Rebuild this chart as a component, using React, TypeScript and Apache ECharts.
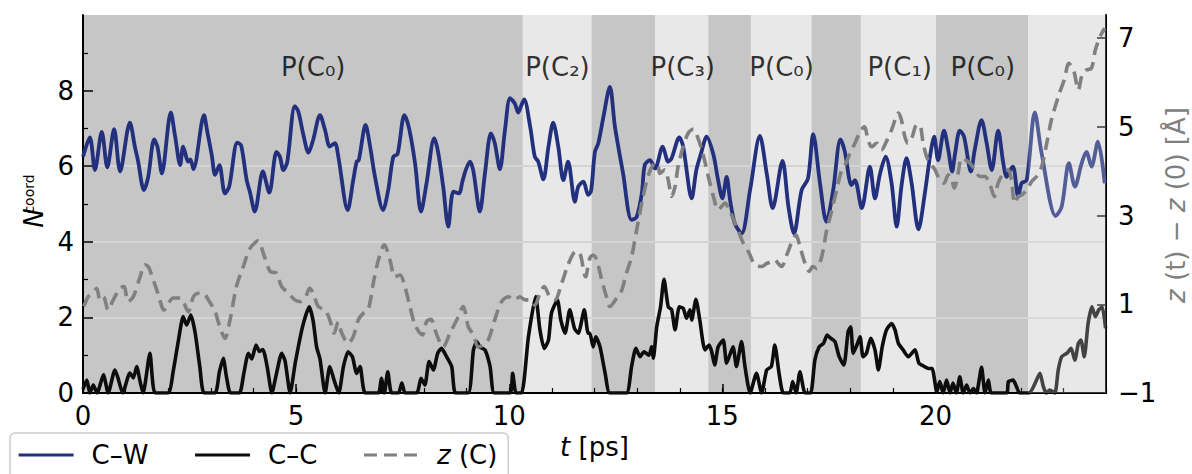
import React, { useEffect, useRef } from 'react';
import * as echarts from 'echarts';

const FONT = "'DejaVu Sans', sans-serif";

// C–W coordination number (left axis) [t (ps), N]
const cwValues: [number, number][] = [
  [0.00,6.25],[0.16,6.76],[0.28,5.90],[0.44,6.91],[0.57,5.97],[0.73,6.98],[0.87,5.86],[1.10,7.15],[1.22,6.5],[1.29,6.15],[1.43,5.37],[1.53,5.72],[1.67,6.71],[1.75,6.50],[1.85,5.81],[2.06,7.42],[2.16,6.80],[2.28,6.03],[2.35,6.52],[2.47,6.12],[2.52,6.18],[2.59,5.92],[2.84,7.35],[2.91,6.95],[3.02,6.30],[3.10,5.77],[3.20,6.03],[3.33,5.28],[3.43,5.46],[3.62,6.62],[3.71,6.55],[3.84,5.63],[3.92,5.30],[4.03,4.80],[4.22,5.86],[4.37,5.30],[4.54,6.38],[4.62,6.25],[4.70,5.90],[4.79,6.10],[4.97,7.59],[5.05,7.45],[5.17,6.83],[5.29,6.36],[5.40,6.70],[5.56,7.35],[5.68,6.95],[5.79,6.52],[5.91,6.61],[5.99,6.25],[6.21,4.84],[6.34,5.63],[6.42,6.12],[6.47,6.16],[6.63,7.09],[6.73,6.56],[6.85,5.72],[7.04,4.84],[7.16,5.37],[7.28,6.25],[7.38,6.32],[7.54,7.35],[7.65,7.00],[7.79,6.08],[7.93,4.80],[8.06,5.55],[8.24,6.74],[8.33,6.38],[8.45,5.46],[8.57,4.40],[8.69,5.33],[8.82,5.28],[8.90,5.59],[8.98,5.90],[9.08,6.12],[9.16,5.86],[9.31,4.80],[9.43,5.81],[9.57,6.87],[9.66,6.61],[9.78,5.92],[9.90,6.96],[10.02,7.80],[10.13,7.66],[10.21,7.42],[10.27,7.57],[10.35,7.77],[10.49,7.05],[10.60,6.25],[10.68,6.12],[10.80,5.65],[10.92,6.52],[11.03,7.15],[11.15,6.52],[11.27,5.63],[11.38,6.12],[11.54,5.06],[11.62,5.46],[11.74,5.59],[11.85,5.24],[11.92,5.35],[12.01,6.38],[12.09,6.61],[12.21,7.31],[12.36,8.10],[12.48,7.04],[12.67,5.81],[12.87,4.58],[12.99,4.66],[13.11,5.28],[13.18,6.03],[13.30,6.16],[13.42,5.94],[13.60,6.52],[13.73,6.12],[13.81,6.21],[13.99,6.76],[14.08,6.52],[14.28,5.15],[14.39,5.90],[14.51,6.38],[14.63,6.78],[14.79,6.30],[14.90,5.63],[15.00,5.15],[15.10,5.72],[15.18,5.11],[15.29,4.49],[15.45,4.22],[15.65,5.37],[15.88,6.80],[16.04,5.81],[16.18,4.89],[16.41,6.14],[16.55,4.93],[16.68,4.22],[16.86,5.37],[17.01,5.68],[17.13,6.85],[17.29,5.55],[17.44,4.53],[17.60,5.37],[17.77,6.71],[17.87,6.40],[18.03,5.50],[18.11,5.63],[18.27,4.89],[18.46,5.99],[18.58,5.15],[18.70,5.81],[18.83,6.25],[18.97,5.55],[19.09,4.40],[19.20,5.46],[19.32,6.21],[19.44,5.55],[19.60,4.33],[19.75,5.28],[19.87,6.25],[19.97,6.78],[20.06,6.16],[20.20,6.94],[20.30,6.43],[20.39,5.86],[20.46,6.34],[20.57,6.94],[20.67,6.78],[20.83,5.86],[20.92,6.43],[21.08,7.22],[21.20,6.61],[21.32,5.90],[21.47,6.94],[21.59,6.08],[21.67,5.72],[21.75,5.90],[21.82,5.99],[21.94,5.19],[22.02,5.55],[22.14,5.63],[22.33,7.42],[22.49,6.34],[22.82,4.68],[22.96,4.93],[23.13,6.08],[23.27,5.46],[23.43,6.08],[23.54,6.38],[23.66,5.99],[23.81,6.65],[23.97,5.55]
];

// C–C coordination number (left axis) [t (ps), N]
const ccValues: [number, number][] = [
  [0.00,0.10],[0.09,0.34],[0.16,0],[0.24,0.21],[0.33,0],[0.48,0.48],[0.59,0],[0.75,0.61],[0.82,0.40],[0.93,0],[1.10,0.53],[1.18,0.40],[1.26,0.70],[1.34,0.30],[1.41,0],[1.57,1.05],[1.69,0],[2.00,0],[2.12,0.60],[2.24,1.40],[2.35,2.02],[2.43,1.80],[2.53,2.06],[2.63,1.60],[2.74,0.70],[2.84,0],[3.10,0],[3.20,0.56],[3.29,0.92],[3.37,0.40],[3.46,0],[3.67,0],[3.77,0.50],[3.88,1.05],[3.96,0.90],[4.06,1.27],[4.14,1.10],[4.22,1.15],[4.32,0.70],[4.43,0],[4.55,0.57],[4.66,1.05],[4.74,0.85],[4.86,0],[4.98,0.80],[5.15,1.75],[5.31,2.28],[5.40,1.90],[5.48,1.22],[5.56,0.90],[5.68,0],[5.79,0.70],[5.89,0.34],[6.00,0],[6.11,0.70],[6.22,1.09],[6.32,0.96],[6.42,0.52],[6.50,0.70],[6.62,0],[6.93,0],[7.00,0.39],[7.07,0],[7.15,0.56],[7.24,0],[7.40,0],[7.48,0.26],[7.56,0],[7.83,0],[7.93,0.39],[8.02,0.21],[8.12,0.83],[8.22,0.61],[8.32,1.05],[8.41,1.18],[8.53,0.96],[8.65,0.70],[8.74,0],[9.04,0],[9.16,1.14],[9.24,1.36],[9.31,1.22],[9.43,1.14],[9.55,0.70],[9.65,0],[10.02,0],[10.08,0.52],[10.16,0],[10.29,0],[10.45,1.49],[10.62,2.55],[10.72,1.67],[10.82,1.18],[10.92,1.40],[10.99,2.11],[11.13,2.46],[11.21,1.93],[11.31,1.58],[11.42,2.20],[11.53,1.71],[11.62,1.58],[11.76,2.20],[11.85,1.58],[11.89,1.58],[11.97,1.22],[12.03,1.49],[12.13,1.22],[12.25,0.52],[12.36,0],[12.75,0],[12.87,0.70],[12.97,1.18],[13.07,0.96],[13.16,1.09],[13.28,1.00],[13.34,1.22],[13.38,0.92],[13.46,1.75],[13.55,2.28],[13.63,3.01],[13.73,2.28],[13.81,2.20],[13.89,1.67],[13.99,2.28],[14.08,2.24],[14.16,1.98],[14.24,2.20],[14.28,1.93],[14.38,2.48],[14.47,1.93],[14.59,1.14],[14.69,1.27],[14.75,1.09],[14.82,0.74],[14.90,1.22],[15.02,1.40],[15.10,0.79],[15.25,1.22],[15.33,0.70],[15.45,1.36],[15.53,0.70],[15.65,0],[15.80,0.52],[15.92,0],[16.04,0.61],[16.15,0.70],[16.23,1.27],[16.33,0.52],[16.43,0],[16.58,0],[16.65,0.30],[16.73,0],[16.82,0.56],[16.94,0],[17.07,0],[17.17,0.87],[17.27,1.22],[17.37,1.31],[17.46,1.53],[17.54,1.45],[17.64,1.36],[17.74,0.96],[17.85,0.74],[17.95,1.62],[18.01,1.75],[18.07,1.05],[18.17,1.31],[18.23,1.49],[18.30,0.96],[18.38,1.05],[18.48,1.45],[18.58,1.14],[18.66,0.61],[18.75,1.22],[18.85,1.67],[18.97,1.84],[19.05,1.67],[19.13,1.31],[19.24,1.14],[19.36,0.96],[19.52,1.14],[19.61,0.79],[19.74,0.70],[19.83,0.65],[19.92,0.65],[20.03,0.03],[20.10,0.30],[20.18,0],[20.26,0.34],[20.34,0],[20.41,0.26],[20.49,0],[20.57,0.43],[20.65,0],[20.73,0.21],[20.81,0],[20.89,0.12],[20.96,0],[21.08,0.68],[21.16,0],[21.24,0.34],[21.31,0],[21.67,0],[21.71,0.30],[21.82,0.34],[21.90,0.17],[21.97,0],[22.20,0],[22.30,0.17],[22.37,0.34],[22.45,0.52],[22.53,0.17],[22.60,0],[22.68,0.08],[22.80,0],[22.88,0.61],[22.96,0.96],[23.08,1.05],[23.18,1.18],[23.27,0.87],[23.35,1.31],[23.41,1.40],[23.49,0.96],[23.58,1.84],[23.67,2.28],[23.75,2.02],[23.83,2.20],[23.91,2.28],[23.99,1.71]
];

// z(t) - z(0) of C (right axis) [t (ps), Å]
const zValues: [number, number][] = [
  [0.02,0.95],[0.12,1.17],[0.24,1.28],[0.32,1.36],[0.40,1.10],[0.48,1.17],[0.59,0.87],[0.71,1.10],[0.87,1.36],[0.96,1.40],[1.06,1.06],[1.18,1.17],[1.34,1.62],[1.45,1.89],[1.53,1.85],[1.61,1.66],[1.77,1.21],[1.90,0.87],[2.00,1.02],[2.12,1.14],[2.28,1.14],[2.37,1.02],[2.47,0.83],[2.59,1.17],[2.70,1.25],[2.82,1.25],[2.94,1.10],[3.10,0.83],[3.21,0.49],[3.33,0.23],[3.45,0.65],[3.60,1.40],[3.76,1.85],[3.92,2.26],[4.11,2.43],[4.23,2.15],[4.39,1.74],[4.54,1.70],[4.66,1.40],[4.82,1.25],[4.97,1.10],[5.09,1.06],[5.21,1.14],[5.32,1.36],[5.40,1.25],[5.52,0.95],[5.68,0.87],[5.79,0.65],[5.89,0.35],[5.99,0.60],[6.07,0.35],[6.22,0.12],[6.34,0.27],[6.46,0.65],[6.58,0.80],[6.69,0.87],[6.81,1.47],[6.93,2.00],[7.07,2.34],[7.20,2.00],[7.32,1.62],[7.44,1.66],[7.55,1.40],[7.67,0.95],[7.79,0.53],[7.96,0.31],[8.06,0.61],[8.16,0.66],[8.30,0.31],[8.45,0.04],[8.61,0.35],[8.77,0.65],[8.92,0.95],[9.04,0.49],[9.16,0.31],[9.27,0.04],[9.39,0.08],[9.51,0.20],[9.66,0.65],[9.82,1.06],[9.98,1.17],[10.13,1.10],[10.25,1.17],[10.37,1.10],[10.49,1.10],[10.60,0.98],[10.72,1.25],[10.82,1.40],[10.95,1.17],[11.07,1.10],[11.23,1.47],[11.38,1.89],[11.56,2.19],[11.66,2.15],[11.79,1.62],[11.89,2.04],[11.97,2.11],[12.05,2.00],[12.17,1.55],[12.28,1.17],[12.36,0.95],[12.52,1.14],[12.64,1.32],[12.75,1.70],[12.87,2.07],[12.99,2.68],[13.14,3.43],[13.28,3.95],[13.42,4.18],[13.50,4.10],[13.53,3.95],[13.65,4.03],[13.73,3.80],[13.81,3.43],[13.89,3.65],[13.96,4.10],[14.08,4.55],[14.20,4.86],[14.32,4.95],[14.43,4.74],[14.55,4.37],[14.67,3.88],[14.79,3.43],[14.90,3.13],[14.98,3.20],[15.06,3.28],[15.18,3.09],[15.33,2.75],[15.49,2.38],[15.63,2.15],[15.76,1.89],[15.92,1.85],[16.04,1.92],[16.15,1.96],[16.23,2.00],[16.31,1.92],[16.39,1.85],[16.51,2.11],[16.62,2.38],[16.73,2.56],[16.82,2.30],[16.94,1.92],[17.04,1.74],[17.12,1.85],[17.21,1.81],[17.33,2.07],[17.45,2.68],[17.56,3.09],[17.68,3.58],[17.80,4.03],[17.90,4.18],[17.99,4.40],[18.11,4.63],[18.23,4.89],[18.33,5.00],[18.42,4.70],[18.50,4.55],[18.62,4.63],[18.73,4.48],[18.85,4.67],[18.97,4.93],[19.13,5.31],[19.20,5.16],[19.28,4.78],[19.35,4.63],[19.44,4.74],[19.56,5.04],[19.63,5.04],[19.71,4.63],[19.79,4.33],[19.87,4.18],[19.99,4.03],[20.10,3.80],[20.20,3.73],[20.30,3.92],[20.38,3.80],[20.44,3.62],[20.53,3.95],[20.61,4.29],[20.71,4.25],[20.81,4.18],[20.92,4.03],[21.04,3.88],[21.16,3.88],[21.28,3.69],[21.38,3.43],[21.47,3.73],[21.59,3.95],[21.71,4.03],[21.78,3.80],[21.86,3.28],[21.94,3.43],[22.02,3.46],[22.14,3.58],[22.25,3.76],[22.37,3.88],[22.49,4.10],[22.61,4.63],[22.72,5.16],[22.88,5.68],[23.02,6.06],[23.13,6.43],[23.25,6.24],[23.35,5.83],[23.44,6.17],[23.54,6.28],[23.66,6.32],[23.75,6.73],[23.86,7.03],[23.97,7.22]
];

// Shaded time windows [start, end, shade]
const regionBounds: [number, number, 'dark' | 'light'][] = [
  [0, 10.32, 'dark'], [10.32, 11.93, 'light'], [11.93, 13.42, 'dark'], [13.42, 14.67, 'light'],
  [14.67, 15.67, 'dark'], [15.67, 17.09, 'light'], [17.09, 18.25, 'dark'], [18.25, 20.01, 'light'],
  [20.01, 22.18, 'dark'], [22.18, 24, 'light']
];
// State labels [t centre, text]
const regionLabels: [number, string][] = [
  [5.40, 'P(C₀)'], [11.13, 'P(C₂)'], [14.07, 'P(C₃)'], [16.39, 'P(C₀)'], [19.16, 'P(C₁)'], [21.11, 'P(C₀)']
];
const labelLevel = 8.62;
const fadedWindow: [number, number] = [22.18, 24];

const xTickValues = [0, 5, 10, 15, 20];
const leftTickValues = [0, 2, 4, 6, 8];
const rightTickValues = [-1, 1, 3, 5, 7];

const BLUE = '#22307e';
const BLACK = '#0d0d0d';
const GRAY = '#808080';
const DARK = '#c6c6c6';
const LIGHT = '#e8e8e8';
const GRIDC = '#d4d4d4';

const fmtMinus = (v: number) => (v < 0 ? '\u2212' + Math.abs(v) : String(v));

export default function App() {
  const ref = useRef<HTMLDivElement>(null);
  useEffect(() => {
    document.body.style.margin = '0';
    const chart = echarts.init(ref.current!, null, { renderer: 'svg' });
    const axisLine = { show: true, onZero: false, lineStyle: { color: '#000', width: 2 } };
    const labelStyle = { fontSize: 26, color: '#000', fontFamily: FONT };
    const italic = { it: { fontStyle: 'italic', fontSize: 26, fontFamily: FONT, color: '#000' } };
    chart.setOption({
      animation: false,
      grid: { left: 83, right: 86, top: 15, bottom: 81 },
      legend: {
        left: 10, top: 433,
        data: ['C–W', 'C–C', 'z (C)'],
        itemWidth: 55, itemHeight: 14, itemGap: 45,
        padding: [9, 11, 20, 7],
        backgroundColor: '#fff', borderColor: '#cccccc', borderWidth: 1.5, borderRadius: 5,
        selectedMode: false,
        itemStyle: { opacity: 0, borderWidth: 0 },
        lineStyle: { width: 3.2 },
        formatter: (name: string) => (name === 'z (C)' ? '{it|z} (C)' : name),
        textStyle: { fontSize: 26, color: '#000', fontFamily: FONT, padding: [0, 0, 0, 13], rich: italic }
      },
      xAxis: [
        {
          type: 'value', min: 0, max: 24, interval: 5, z: 1,
          axisLine,
          axisTick: { show: true, inside: true, length: 9, customValues: xTickValues, lineStyle: { color: '#000', width: 1.5 } },
          axisLabel: { ...labelStyle, margin: 10, customValues: xTickValues },
          splitLine: { show: false },
          name: '{it|t} [ps]', nameLocation: 'middle', nameGap: 40,
          nameTextStyle: { fontSize: 26, color: '#000', fontFamily: FONT, rich: italic }
        },
        {
          type: 'value', min: 0, max: 24, interval: 1, position: 'bottom', z: 1,
          axisLine: { show: false, onZero: false },
          axisTick: { show: true, inside: true, length: 5, lineStyle: { color: '#000', width: 1.2 } },
          axisLabel: { show: false },
          splitLine: { show: false }
        }
      ],
      yAxis: [
        {
          type: 'value', position: 'left', min: 0, max: 10, interval: 2, z: 1,
          axisLine,
          axisTick: { show: true, inside: true, length: 10, customValues: leftTickValues, lineStyle: { color: '#000', width: 1.5 } },
          minorTick: { show: true, splitNumber: 2, length: 5, lineStyle: { color: '#000', width: 1.2 } },
          axisLabel: { ...labelStyle, margin: 9, customValues: leftTickValues },
          splitLine: { show: true, showMinLine: false, showMaxLine: false, lineStyle: { color: GRIDC, width: 2 } }
        },
        {
          type: 'value', position: 'right', min: -1, max: 7.52, interval: 2, z: 1,
          axisLine,
          axisTick: { show: true, inside: true, length: 9, customValues: rightTickValues, lineStyle: { color: '#000', width: 1.5 } },
          axisLabel: { ...labelStyle, margin: 12, customValues: rightTickValues, formatter: fmtMinus },
          splitLine: { show: false }
        }
      ],
      graphic: [
        { type: 'text', x: 34, y: 218, rotation: Math.PI / 2, silent: true,
          style: { text: 'N', fontSize: 26, fontStyle: 'italic', fontFamily: FONT, fill: '#000', align: 'center', verticalAlign: 'middle' } },
        { type: 'text', x: 29, y: 194, rotation: Math.PI / 2, silent: true,
          style: { text: 'coord', fontSize: 14, fontFamily: FONT, fill: '#000', align: 'center', verticalAlign: 'middle' } },
        { type: 'text', x: 1176, y: 205, rotation: Math.PI / 2, silent: true,
          style: {
            text: '{it|z} (t) − {it|z} (0) [Å]', fontSize: 26, fontFamily: FONT, fill: GRAY, align: 'center', verticalAlign: 'middle',
            rich: { it: { fontStyle: 'italic', fontSize: 26, fontFamily: FONT, fill: GRAY } }
          } }
      ],
      series: [
        {
          name: 'regions', type: 'line', data: [], z: 0, silent: true,
          markArea: {
            silent: true, z: 0,
            data: regionBounds.map(([a, b, k]) => [
              { xAxis: a, itemStyle: { color: k === 'dark' ? DARK : LIGHT, borderWidth: 0 } },
              { xAxis: b }
            ])
          }
        },
        {
          name: 'labels', type: 'scatter', z: 2, silent: true, symbolSize: 1,
          itemStyle: { color: 'rgba(0,0,0,0)' },
          data: regionLabels.map(([t, s]) => ({ value: [t, labelLevel], name: s })),
          label: { show: true, position: 'inside', formatter: '{b}', fontSize: 26, color: '#000', fontFamily: FONT }
        },
        {
          name: 'C–W', type: 'line', yAxisIndex: 0, z: 2, symbol: 'none', silent: true,
          smooth: 0.3, data: cwValues, color: BLUE,
          lineStyle: { color: BLUE, width: 3.8, join: 'round' }
        },
        {
          name: 'C–C', type: 'line', yAxisIndex: 0, z: 2, symbol: 'none', silent: true,
          smooth: 0.2, data: ccValues, color: BLACK,
          lineStyle: { color: BLACK, width: 3.6, join: 'round' }
        },
        {
          name: 'fade', type: 'line', data: [], z: 3, silent: true,
          markArea: {
            silent: true, z: 3,
            data: [[{ xAxis: fadedWindow[0], itemStyle: { color: 'rgba(232,232,232,0.25)', borderWidth: 0 } }, { xAxis: fadedWindow[1] }]]
          }
        },
        {
          name: 'z (C)', type: 'line', yAxisIndex: 1, z: 4, symbol: 'none', silent: true,
          smooth: 0.3, data: zValues, color: GRAY,
          lineStyle: { color: GRAY, width: 3.6, type: [13, 7], join: 'round' }
        }
      ]
    });
    return () => chart.dispose();
  }, []);
  return <div ref={ref} style={{ width: 1192, height: 474, position: 'absolute', left: 0, top: 0 }} />;
}
